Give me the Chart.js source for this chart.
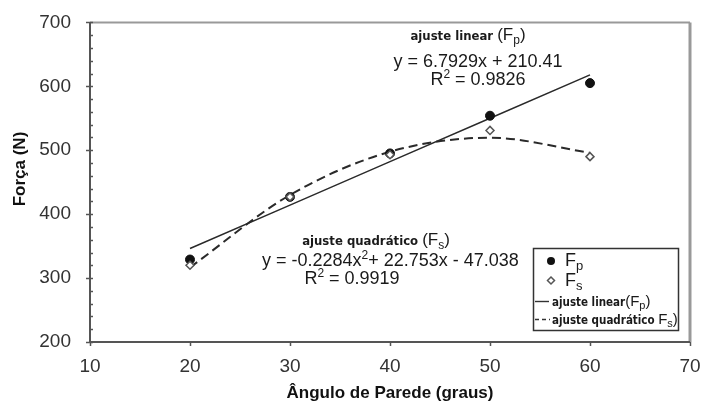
<!DOCTYPE html>
<html lang="pt">
<head>
<meta charset="UTF-8">
<title>Força x Ângulo de Parede</title>
<script src="https://cdn.jsdelivr.net/npm/chart.js"></script>
<style>
  body { margin: 0; background: #fff; }
  #wrap { width: 706px; height: 412px; }
</style>
</head>
<body>
<div id="wrap"><canvas id="forceChart"></canvas></div>
<script>
// medições
const angles = [20, 30, 40, 50, 60];
const forceFp = [329, 427, 495, 554, 605];
const forceFs = [320, 427, 493, 531, 490];

// coeficientes dos ajustes
const linCoef = [6.7929, 210.41];             // Fp: a*x + b
const quadCoef = [-0.2284, 22.753, -47.038];  // Fs: a*x^2 + b*x + c
const rSquared = [0.9826, 0.9919];

const SANS = '"Liberation Sans", Arial, sans-serif';
const NARROW = '"Liberation Sans Narrow", "DejaVu Sans Condensed", sans-serif';

const pts = vals => angles.map((x, i) => ({ x, y: vals[i] }));
const linFit = angles.map(x => ({ x, y: linCoef[0] * x + linCoef[1] }));
const quadFit = angles.map(x => ({ x, y: quadCoef[0] * x * x + quadCoef[1] * x + quadCoef[2] }));

// desenha uma sequência de trechos de texto com fontes diferentes
function drawRuns(ctx, runs, x, y, align) {
  let w = 0;
  runs.forEach(r => { ctx.font = r.font; r.w = ctx.measureText(r.t).width; w += r.w; });
  let cx = align === 'center' ? x - w / 2 : x;
  ctx.textAlign = 'left';
  ctx.textBaseline = 'alphabetic';
  runs.forEach(r => {
    ctx.font = r.font;
    ctx.fillText(r.t, cx, y + (r.dy || 0));
    cx += r.w;
  });
}

const sans = s => s + 'px ' + SANS;
const narrow = s => 'bold ' + s + 'px ' + NARROW;

const decor = {
  id: 'decor',
  beforeDatasetsDraw(chart) {
    const { ctx, chartArea: a, scales } = chart;
    ctx.save();
    // moldura
    ctx.lineWidth = 2;
    ctx.strokeStyle = '#999';
    ctx.beginPath();
    ctx.moveTo(a.left, a.top); ctx.lineTo(a.right, a.top);
    ctx.stroke();
    ctx.lineWidth = 3;
    ctx.beginPath();
    ctx.moveTo(a.right, a.top); ctx.lineTo(a.right, a.bottom);
    ctx.stroke();
    ctx.lineWidth = 2;
    ctx.strokeStyle = '#555';
    ctx.beginPath();
    ctx.moveTo(a.left, a.top); ctx.lineTo(a.left, a.bottom); ctx.lineTo(a.right, a.bottom);
    ctx.stroke();

    // marcas do eixo y (principais e secundárias)
    ctx.lineWidth = 1.5;
    for (let v = 200; v <= 700; v += 20) {
      const y = Math.round(scales.y.getPixelForValue(v)) + 0.5;
      ctx.beginPath();
      ctx.moveTo(v % 100 === 0 ? a.left - 4 : a.left, y);
      ctx.lineTo(a.left + 3, y);
      ctx.stroke();
    }
    // marcas do eixo x
    for (let v = 10; v <= 70; v += 10) {
      const x = Math.round(scales.x.getPixelForValue(v)) + 0.5;
      ctx.beginPath();
      ctx.moveTo(x, a.bottom);
      ctx.lineTo(x, a.bottom + 4);
      ctx.stroke();
    }

    // título do eixo y
    ctx.translate(20, 169);
    ctx.rotate(-Math.PI / 2);
    ctx.fillStyle = '#111';
    ctx.font = 'bold 17px ' + SANS;
    ctx.textAlign = 'center';
    ctx.textBaseline = 'middle';
    ctx.fillText('Força (N)', 0, 0);
    ctx.restore();
  },
  afterDatasetsDraw(chart) {
    const { ctx } = chart;
    ctx.save();
    ctx.fillStyle = '#1a1a1a';

    // ajuste linear
    drawRuns(ctx, [
      { t: 'ajuste linear ', font: narrow(13) },
      { t: '(F', font: sans(17) },
      { t: 'p', font: sans(12), dy: 4 },
      { t: ')', font: sans(17) }
    ], 468, 40, 'center');
    drawRuns(ctx, [
      { t: `y = ${linCoef[0]}x + ${linCoef[1]}`, font: sans(18) }
    ], 478, 67, 'center');
    drawRuns(ctx, [
      { t: 'R', font: sans(18) },
      { t: '2', font: sans(12), dy: -7 },
      { t: ` = ${rSquared[0]}`, font: sans(18) }
    ], 478, 85, 'center');

    // ajuste quadrático
    drawRuns(ctx, [
      { t: 'ajuste quadrático ', font: narrow(13) },
      { t: '(F', font: sans(17) },
      { t: 's', font: sans(12), dy: 4 },
      { t: ')', font: sans(17) }
    ], 376, 245, 'center');
    drawRuns(ctx, [
      { t: `y = ${quadCoef[0]}x`, font: sans(18) },
      { t: '2', font: sans(12), dy: -7 },
      { t: `+ ${quadCoef[1]}x - ${Math.abs(quadCoef[2])}`, font: sans(18) }
    ], 262, 266, 'left');
    drawRuns(ctx, [
      { t: 'R', font: sans(18) },
      { t: '2', font: sans(12), dy: -7 },
      { t: ` = ${rSquared[1]}`, font: sans(18) }
    ], 352, 284, 'center');

    // legenda
    ctx.fillStyle = '#fff';
    ctx.fillRect(533, 248, 145, 82);
    ctx.lineWidth = 1.5;
    ctx.strokeStyle = '#333';
    ctx.strokeRect(533.5, 248.5, 145, 82);

    ctx.fillStyle = '#111';
    ctx.beginPath(); ctx.arc(551, 261, 4, 0, Math.PI * 2); ctx.fill();
    ctx.strokeStyle = '#555';
    ctx.beginPath();
    ctx.moveTo(551, 277); ctx.lineTo(554.5, 280.5); ctx.lineTo(551, 284); ctx.lineTo(547.5, 280.5);
    ctx.closePath(); ctx.stroke();
    ctx.strokeStyle = '#333';
    ctx.lineWidth = 1.4;
    ctx.beginPath(); ctx.moveTo(535, 301.5); ctx.lineTo(549, 301.5); ctx.stroke();
    ctx.lineWidth = 1.7;
    ctx.setLineDash([4, 3]);
    ctx.beginPath(); ctx.moveTo(535, 319.5); ctx.lineTo(550, 319.5); ctx.stroke();
    ctx.setLineDash([]);

    ctx.fillStyle = '#1a1a1a';
    drawRuns(ctx, [{ t: 'F', font: sans(18) }, { t: 'p', font: sans(13), dy: 4 }], 565, 266, 'left');
    drawRuns(ctx, [{ t: 'F', font: sans(18) }, { t: 's', font: sans(13), dy: 4 }], 565, 286, 'left');
    drawRuns(ctx, [
      { t: 'ajuste linear', font: narrow(11.5) },
      { t: '(F', font: sans(15) },
      { t: 'p', font: sans(11), dy: 3 },
      { t: ')', font: sans(15) }
    ], 552, 306, 'left');
    drawRuns(ctx, [
      { t: 'ajuste quadrático ', font: narrow(11.5) },
      { t: 'F', font: sans(15) },
      { t: 's', font: sans(11), dy: 3 },
      { t: ')', font: sans(15) }
    ], 552, 324, 'left');
    ctx.restore();
  }
};

new Chart(document.getElementById('forceChart'), {
  type: 'scatter',
  data: {
    datasets: [
      {
        label: 'Fs',
        data: pts(forceFs),
        pointStyle: 'rectRot',
        pointRadius: 4,
        backgroundColor: '#fff',
        borderColor: '#555',
        borderWidth: 1.5
      },
      {
        label: 'Fp',
        data: pts(forceFp),
        pointStyle: 'circle',
        pointRadius: 4.5,
        backgroundColor: '#111',
        borderColor: '#111'
      },
      {
        label: 'ajuste linear (Fp)',
        data: linFit,
        showLine: true,
        pointRadius: 0,
        borderColor: '#2a2a2a',
        borderWidth: 1.5
      },
      {
        label: 'ajuste quadrático (Fs)',
        data: quadFit,
        showLine: true,
        pointRadius: 0,
        borderColor: '#2a2a2a',
        borderWidth: 2,
        borderDash: [9, 5],
        cubicInterpolationMode: 'monotone'
      }
    ]
  },
  options: {
    responsive: true,
    maintainAspectRatio: false,
    animation: false,
    layout: { padding: { top: 20, right: 16, left: 0, bottom: 0 } },
    plugins: {
      legend: { display: false },
      tooltip: { enabled: false }
    },
    scales: {
      x: {
        type: 'linear',
        min: 10,
        max: 70,
        grid: { display: false },
        border: { display: false },
        ticks: { stepSize: 10, padding: 5, color: '#333', font: { family: SANS, size: 19 } },
        title: {
          display: true,
          text: 'Ângulo de Parede (graus)',
          color: '#111',
          font: { family: SANS, size: 17, weight: 'bold' },
          padding: { top: 0, bottom: 8 }
        },
        afterFit: s => { s.height = 70; }
      },
      y: {
        min: 200,
        max: 700,
        grid: { display: false },
        border: { display: false },
        ticks: { stepSize: 100, padding: 11, color: '#333', font: { family: SANS, size: 19 } },
        title: { display: false },
        afterFit: s => { s.width = 90; }
      }
    }
  },
  plugins: [decor]
});
</script>
</body>
</html>
